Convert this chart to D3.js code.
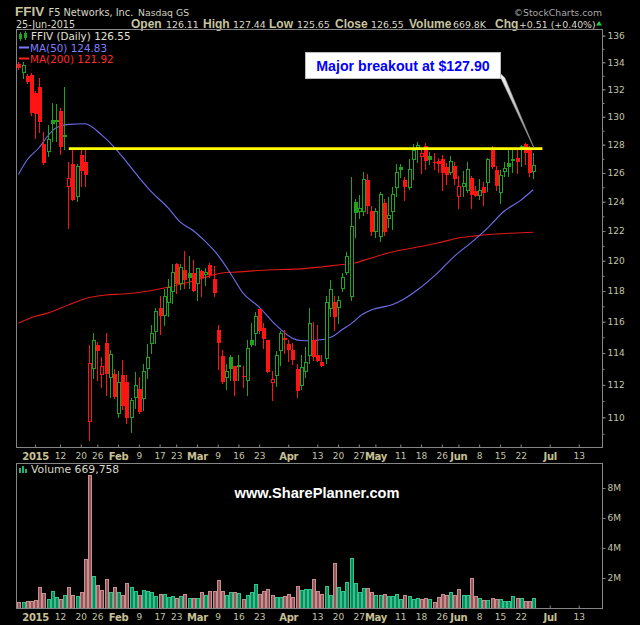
<!DOCTYPE html>
<html><head><meta charset="utf-8">
<script src="https://cdn.jsdelivr.net/npm/d3@7"></script>
<style>body{margin:0;background:#000;}svg{display:block;}</style>
</head><body><svg id="c" width="640" height="625"></svg>
<script>
// ---------------- data ----------------
const symbol = "FFIV", company = "F5 Networks, Inc.", exchange = "Nasdaq GS";
const quoteDate = "25-Jun-2015";
const quoteLabels = ["Open", "High", "Low", "Close", "Volume", "Chg"];
const quoteValues = ["126.11", "127.44", "125.65", "126.55", "669.8K", "+0.51 (+0.40%)"];
const legendPrice = "FFIV (Daily) 126.55";
const legendMA50 = "MA(50) 124.83";
const legendMA200 = "MA(200) 121.92";
const legendVolume = "Volume 669,758";
const annotationText = "Major breakout at $127.90";
const watermark = "www.SharePlanner.com";
const breakoutLevel = 127.72;   // level of the drawn yellow line
const prevClose = 134.3;

const tradingMonths = [
  ["2014-12", [26,29,30,31]],
  ["2015-01", [2,5,6,7,8,9,12,13,14,15,16,20,21,22,23,26,27,28,29,30]],
  ["2015-02", [2,3,4,5,6,9,10,11,12,13,17,18,19,20,23,24,25,26,27]],
  ["2015-03", [2,3,4,5,6,9,10,11,12,13,16,17,18,19,20,23,24,25,26,27,30,31]],
  ["2015-04", [1,2,6,7,8,9,10,13,14,15,16,17,20,21,22,23,24,27,28,29,30]],
  ["2015-05", [1,4,5,6,7,8,11,12,13,14,15,18,19,20,21,22,26,27,28,29]],
  ["2015-06", [1,2,3,4,5,8,9,10,11,12,15,16,17,18,19,22,23,24,25]]
];
const futureMonths = [
  ["2015-06", [26,29,30]],
  ["2015-07", [1,2,6,7,8,9,10,13,14,15,16,17,20]]
];

const opens = [133.90,133.30,133.00,133.08,131.75,132.19,128.03,127.54,129.80,129.70,
 130.45,128.60,125.11,126.63,124.43,127.30,126.77,109.80,113.04,114.51,
 112.67,114.64,112.48,112.67,110.24,112.60,112.17,110.00,111.23,111.73,
 111.16,113.04,114.64,115.40,116.87,116.42,117.26,117.97,119.79,118.55,
 119.40,119.20,119.20,118.55,119.33,119.14,119.72,118.81,115.50,113.80,
 112.48,113.74,113.17,113.20,112.55,112.30,114.85,115.30,116.80,115.60,
 114.85,112.20,112.60,114.20,114.95,114.60,114.20,112.97,111.98,112.86,
 113.86,114.85,113.90,113.42,113.70,116.87,117.26,116.95,118.23,119.27,
 117.65,124.00,123.40,123.40,125.50,123.40,122.00,121.65,123.90,122.90,
 123.40,125.04,126.40,125.50,125.00,126.98,127.85,127.20,127.90,127.20,
 126.80,126.85,126.98,126.42,126.08,126.49,124.43,125.11,124.84,125.66,
 124.77,124.50,125.04,125.39,127.61,126.22,124.70,126.15,126.70,126.95,
 127.05,127.80,128.03,127.75,126.11];
const highs = [134.05,134.00,133.10,133.20,131.90,132.85,128.87,129.44,131.02,130.90,
 130.60,132.19,126.77,127.68,126.60,127.68,127.68,114.50,115.28,114.70,
 113.74,115.28,114.19,113.00,112.90,113.55,112.60,111.16,112.80,112.48,
 113.30,114.60,115.80,116.87,117.65,118.10,118.80,119.80,119.85,119.79,
 120.66,120.32,120.06,119.55,119.40,119.53,119.85,119.66,115.79,114.20,
 113.30,113.90,113.20,113.90,113.20,114.85,115.95,116.60,116.80,115.95,
 114.85,112.90,114.10,115.40,115.50,114.80,114.65,113.30,113.86,114.40,
 116.87,116.00,115.80,113.90,117.65,118.75,117.65,117.70,119.20,120.60,
 125.73,124.20,124.50,126.10,125.90,123.70,123.60,124.70,124.20,124.30,
 125.00,126.63,126.60,125.70,127.00,128.03,128.20,127.70,128.10,127.50,
 127.40,127.05,127.25,126.70,127.20,126.77,125.80,126.15,126.77,125.80,
 125.10,125.60,125.40,127.05,127.89,126.49,126.22,126.77,127.68,127.68,
 127.68,128.00,128.10,127.89,127.44];
const lows = [133.50,132.85,132.50,130.16,128.45,128.87,126.63,127.19,128.24,128.24,
 127.33,127.68,122.20,124.09,124.02,125.11,125.11,108.65,112.42,112.30,
 111.85,111.35,111.23,111.16,110.00,110.50,109.63,109.09,110.55,110.24,
 110.43,112.42,114.00,114.64,115.20,115.80,116.36,117.20,117.84,118.10,
 118.23,118.23,117.97,117.39,117.65,118.42,118.94,117.65,113.00,112.10,
 111.73,112.30,111.35,112.30,111.90,111.40,114.45,114.50,115.30,114.35,
 112.80,111.05,111.95,113.25,114.00,113.50,113.30,111.25,111.73,112.50,
 113.36,113.55,113.50,113.17,113.36,116.36,115.50,115.95,117.97,119.10,
 117.40,121.60,122.90,123.07,123.20,121.70,121.60,121.30,121.70,122.30,
 122.15,124.43,125.70,124.10,124.90,125.60,126.80,126.00,126.30,126.60,
 126.30,126.10,124.80,125.20,125.94,125.25,123.60,124.43,124.70,123.60,
 124.43,124.22,123.75,124.77,126.36,124.84,123.95,125.80,125.80,126.08,
 126.00,126.50,126.63,125.80,125.65];
const closes = [133.67,133.82,132.63,130.37,130.30,129.66,126.77,128.38,129.58,129.80,
 127.89,128.70,125.66,124.22,126.49,126.22,125.94,113.36,114.83,114.19,
 113.17,112.73,113.93,111.29,112.17,110.73,110.00,111.04,111.98,110.36,
 112.86,113.74,115.28,116.68,116.42,117.65,118.29,119.27,118.55,119.59,
 118.81,118.94,118.04,119.53,118.94,119.27,119.14,117.91,114.70,112.23,
 112.86,113.04,112.29,113.24,112.53,114.30,114.55,116.40,115.45,114.95,
 112.86,112.35,113.90,115.30,114.90,114.25,113.60,111.70,113.10,113.42,
 115.95,113.80,113.55,113.23,117.26,118.10,116.36,117.40,118.94,120.32,
 122.35,123.30,123.55,125.60,123.75,122.00,123.40,124.56,121.98,123.10,
 124.56,126.08,126.25,125.11,126.30,127.61,127.95,127.40,126.90,126.98,
 126.77,126.70,126.08,125.94,126.84,125.66,125.11,125.32,126.29,124.56,
 124.50,124.84,124.70,126.98,126.49,125.18,125.87,126.36,126.49,127.00,
 126.84,127.90,127.47,126.04,126.55];
const volumesM = [0.38,0.38,0.45,0.45,0.52,1.38,1.0,0.62,1.12,0.72,
 0.62,0.85,1.38,0.85,0.78,1.05,3.28,8.9,2.15,1.55,
 1.2,1.92,1.05,1.38,1.05,0.85,1.65,1.4,1.15,0.85,
 1.2,1.12,1.05,0.8,0.95,0.95,0.72,0.8,0.65,0.78,
 0.95,0.65,0.65,0.65,1.05,0.85,1.12,1.12,1.88,1.12,
 0.85,1.05,1.05,1.0,0.58,0.85,1.05,1.6,0.95,1.15,
 1.28,0.9,0.72,0.72,0.8,0.92,0.72,1.48,1.2,1.25,
 1.25,1.92,1.15,0.92,1.48,0.85,3.0,1.42,1.15,1.72,
 3.35,1.68,1.05,1.35,1.35,1.1,0.85,0.85,0.95,0.8,
 0.8,0.95,0.62,0.9,0.8,0.6,0.65,0.6,0.65,0.62,
 0.4,0.75,0.95,0.85,1.1,0.85,1.3,0.85,0.85,2.0,
 0.8,0.7,0.55,0.55,0.65,0.6,0.6,0.5,0.5,0.8,
 0.7,0.65,0.5,0.5,0.67];

// moving averages: [trading-day index, value]
const ma50 = [[0,125.9],[2,126.9],[5,127.8],[7,128.6],[9,129.2],[12,129.45],[16,129.5],[20,128.7],
 [23,127.85],[26,126.8],[29,125.7],[32,124.7],[36,123.6],[39,122.6],[42,122.05],[45,121.3],[48,120.4],
 [51,119.2],[54,117.9],[58,116.95],[62,115.8],[66,114.95],[68,114.8],[70,114.78],[72,114.82],[74,114.9],
 [76,115.1],[78,115.5],[80,115.85],[83,116.5],[86,116.85],[90,117.1],[93,117.5],[96,118.05],[101,119.2],
 [105,120.3],[109,121.2],[113,122.2],[117,123.35],[121,124.1],[124,124.83]];
const ma200 = [[0,115.9],[4,116.35],[7,116.56],[12,117.08],[16,117.5],[21,117.74],[25,117.8],[28,117.87],
 [31,117.99],[36,118.25],[41,118.58],[46,118.98],[49,119.19],[53,119.26],[60,119.39],[68,119.46],[73,119.59],
 [77,119.72],[81,119.85],[85,120.19],[90,120.59],[95,120.86],[101,121.19],[106,121.53],[110,121.67],
 [115,121.8],[120,121.87],[124,121.92]];

const priceTicks = [110,112,114,116,118,120,122,124,126,128,130,132,134,136];
const volumeTicks = [2,4,6,8];
const xLabels = [
 ["2015-01-02","2015",1],["2015-01-12","12",0],["2015-01-20","20",0],["2015-01-26","26",0],
 ["2015-02-02","Feb",1],["2015-02-09","9",0],["2015-02-17","17",0],["2015-02-23","23",0],
 ["2015-03-02","Mar",1],["2015-03-09","9",0],["2015-03-16","16",0],["2015-03-23","23",0],
 ["2015-04-01","Apr",1],["2015-04-13","13",0],["2015-04-20","20",0],["2015-04-27","27",0],
 ["2015-05-01","May",1],["2015-05-11","11",0],["2015-05-18","18",0],["2015-05-26","26",0],
 ["2015-06-01","Jun",1],["2015-06-08","8",0],["2015-06-15","15",0],["2015-06-22","22",0],
 ["2015-07-01","Jul",1],["2015-07-13","13",0]];

// ---------------- build ----------------
const pad = d => String(d).padStart(2, "0");
const dates = [];
tradingMonths.forEach(([m, ds]) => ds.forEach(d => dates.push(m + "-" + pad(d))));
const allDates = dates.slice();
futureMonths.forEach(([m, ds]) => ds.forEach(d => allDates.push(m + "-" + pad(d))));
const idxOf = d => allDates.indexOf(d);

const bars = dates.map((d, i) => ({
  i, o: opens[i], h: highs[i], l: lows[i], c: closes[i], v: volumesM[i],
  up: closes[i] >= (i ? closes[i - 1] : prevClose)
}));

const L = 16, R = 602, T = 29, B = 447, VT = 463, VB = 608;
const x = d3.scaleLinear().domain([-0.6, 140.6]).range([L, R]);
const y = d3.scaleLog().domain([108.2, 136.5]).range([B, T]);
const yv = d3.scaleLinear().domain([0, 9.67]).range([VB, VT]);

const FD = "'DejaVu Sans', Verdana, sans-serif";
const FA = "'Liberation Sans', Arial, sans-serif";
const GREEN = "#1fa31f", RED = "#ff1414";
const AXT = "#c4c4aa";

const svg = d3.select("#c");
svg.append("rect").attr("width", 640).attr("height", 625).attr("fill", "#000");

// header
svg.append("text").attr("x", 15).attr("y", 16).text(symbol)
  .attr("font-family", FA).attr("font-weight", "bold").attr("font-size", 13.5).attr("fill", "#c8c4a0");
svg.append("text").attr("x", 48.5).attr("y", 15.5).text(company)
  .attr("font-family", FD).attr("font-size", 9.8).attr("fill", "#d8d8c8");
svg.append("text").attr("x", 138).attr("y", 15.5).text(exchange)
  .attr("font-family", FD).attr("font-size", 9.3).attr("fill", "#d0d0c0");
svg.append("text").attr("x", 602).attr("y", 15.5).attr("text-anchor", "end").text("\u00A9StockCharts.com")
  .attr("font-family", FD).attr("font-size", 9.3).attr("fill", "#a8a8a8");
svg.append("text").attr("x", 16).attr("y", 27.5).text(quoteDate)
  .attr("font-family", FD).attr("font-size", 9.6).attr("fill", "#d8d8c8");
const labelX = [131, 203, 269, 335, 409, 495];
const valueX = [166, 233, 297, 371, 453, 519];
quoteLabels.forEach((t, k) => {
  svg.append("text").attr("x", labelX[k]).attr("y", 27.5).text(t)
    .attr("font-family", FA).attr("font-weight", "bold").attr("font-size", 12).attr("fill", "#c8c4a0");
  svg.append("text").attr("x", valueX[k]).attr("y", 27.5).text(quoteValues[k])
    .attr("font-family", FD).attr("font-size", 9.4).attr("fill", "#d8d8c8");
});
svg.append("path").attr("d", "M596,25.5L599,21L602,25.5Z").attr("fill", "#22cc44");

// panels
svg.append("rect").attr("x", L + 0.5).attr("y", T + 0.5).attr("width", R - L).attr("height", B - T)
  .attr("fill", "none").attr("stroke", "#858585");
svg.append("rect").attr("x", L + 0.5).attr("y", VT + 0.5).attr("width", R - L).attr("height", VB - VT)
  .attr("fill", "none").attr("stroke", "#858585");

// right price axis
const ya = svg.append("g").attr("transform", `translate(${R + 0.5},0)`)
  .call(d3.axisRight(y).tickValues(priceTicks).tickFormat(d3.format("d")).tickSize(3).tickPadding(2));
const yminor = svg.append("g").attr("transform", `translate(${R + 0.5},0)`)
  .call(d3.axisRight(y).tickValues(d3.range(109, 137)).tickFormat("").tickSize(2));
[ya, yminor].forEach(g => {
  g.select(".domain").remove();
  g.selectAll("line").attr("stroke", "#858585");
  g.selectAll("text").attr("font-family", FD).attr("font-size", 9).attr("fill", AXT);
});

// volume axis
const va = svg.append("g").attr("transform", `translate(${R + 0.5},0)`)
  .call(d3.axisRight(yv).tickValues(volumeTicks).tickFormat(d => d + "M").tickSize(3).tickPadding(2));
va.select(".domain").remove();
va.selectAll("line").attr("stroke", "#858585");
va.selectAll("text").attr("font-family", FD).attr("font-size", 9).attr("fill", AXT);

// x axes (between panels and at bottom)
const labelIdx = xLabels.map(d => idxOf(d[0]));
const labelMap = new Map(xLabels.map(d => [idxOf(d[0]), d]));
function xAxis(g, yy) {
  g.attr("transform", `translate(0,${yy})`)
    .call(d3.axisBottom(x).tickValues(labelIdx).tickFormat(i => labelMap.get(i)[1])
      .tickSizeInner(-3).tickSizeOuter(0).tickPadding(5));
  g.select(".domain").remove();
  g.selectAll("line").attr("stroke", "#858585");
  g.selectAll("text")
    .attr("font-family", FD)
    .attr("font-size", i => labelMap.get(i)[2] ? 10 : 9)
    .attr("font-weight", i => labelMap.get(i)[2] ? "bold" : "normal")
    .attr("fill", i => labelMap.get(i)[2] ? "#c8c096" : AXT)
    .attr("letter-spacing", i => labelMap.get(i)[2] ? "-0.3" : "0");
}
svg.append("g").call(xAxis, B + 0.5);
svg.append("g").call(xAxis, VB + 0.5);

// clip for main
svg.append("clipPath").attr("id", "mainClip").append("rect")
  .attr("x", L + 1).attr("y", T + 1).attr("width", R - L - 1).attr("height", B - T - 1);
const plot = svg.append("g").attr("clip-path", "url(#mainClip)");

// moving averages
const maLine = d3.line().x(d => x(d[0])).y(d => y(d[1])).curve(d3.curveMonotoneX);
plot.append("path").attr("d", maLine(ma200)).attr("fill", "none").attr("stroke", "#e01818").attr("stroke-width", 1.1);
plot.append("path").attr("d", maLine(ma50)).attr("fill", "none").attr("stroke", "#6f6ff0").attr("stroke-width", 1.1);

// candles
const px = i => Math.round(x(i));
const cg = plot.append("g");
bars.forEach(b => {
  const col = b.up ? GREEN : RED;
  const cx = px(b.i);
  cg.append("line").attr("x1", cx + 0.5).attr("x2", cx + 0.5)
    .attr("y1", Math.round(y(b.h))).attr("y2", Math.round(y(b.l)) + 1)
    .attr("stroke", col).attr("stroke-width", 1);
  const top = Math.round(y(Math.max(b.o, b.c)));
  const bot = Math.round(y(Math.min(b.o, b.c)));
  if (b.c < b.o) {
    cg.append("rect").attr("x", cx - 1).attr("y", top).attr("width", 4).attr("height", Math.max(1, bot - top + 1))
      .attr("fill", col);
  } else {
    cg.append("rect").attr("x", cx - 0.5).attr("y", top + 0.5).attr("width", 3).attr("height", Math.max(1, bot - top))
      .attr("fill", "#000").attr("stroke", col).attr("stroke-width", 1);
  }
});

// breakout line
plot.append("line")
  .attr("x1", x(idxOf("2015-01-14")) + 0.5).attr("x2", x(idxOf("2015-06-29")) + 1)
  .attr("y1", y(breakoutLevel)).attr("y2", y(breakoutLevel))
  .attr("stroke", "#ffff00").attr("stroke-width", 2.6);

// legend main
const lg = svg.append("g");
lg.append("rect").attr("x", 19.5).attr("y", 34.5).attr("width", 2).attr("height", 4).attr("fill", "none").attr("stroke", GREEN);
lg.append("line").attr("x1", 20.5).attr("x2", 20.5).attr("y1", 32).attr("y2", 41).attr("stroke", GREEN);
lg.append("rect").attr("x", 24).attr("y", 33).attr("width", 3).attr("height", 5).attr("fill", GREEN);
lg.append("line").attr("x1", 25.5).attr("x2", 25.5).attr("y1", 31).attr("y2", 40).attr("stroke", GREEN);
lg.append("text").attr("x", 31).attr("y", 40).text(legendPrice)
  .attr("font-family", FD).attr("font-size", 10.4).attr("fill", "#e0e0d4");
lg.append("line").attr("x1", 19).attr("x2", 29).attr("y1", 47.5).attr("y2", 47.5).attr("stroke", "#7b7bff").attr("stroke-width", 2);
lg.append("text").attr("x", 30).attr("y", 51.5).text(legendMA50)
  .attr("font-family", FD).attr("font-size", 10.4).attr("fill", "#7f7fff");
lg.append("line").attr("x1", 19).attr("x2", 29).attr("y1", 58.5).attr("y2", 58.5).attr("stroke", "#ff2020").attr("stroke-width", 2);
lg.append("text").attr("x", 30).attr("y", 62.5).text(legendMA200)
  .attr("font-family", FD).attr("font-size", 10.4).attr("fill", "#ff2a2a");

// annotation
const ptr = svg.append("defs").append("linearGradient").attr("id", "ptrG")
  .attr("x1", "0").attr("y1", "0").attr("x2", "1").attr("y2", "0");
ptr.append("stop").attr("offset", "0").attr("stop-color", "#ffffff");
ptr.append("stop").attr("offset", "1").attr("stop-color", "#8a8a8a");
svg.append("path").attr("d", "M497,70L505,78L534,148Z").attr("fill", "url(#ptrG)").attr("stroke", "#9a9a9a").attr("stroke-width", 0.6);
svg.append("rect").attr("x", 305.5).attr("y", 52.5).attr("width", 195).attr("height", 26)
  .attr("fill", "#ffffff").attr("stroke", "#bbbbbb");
svg.append("text").attr("x", 403).attr("y", 71).attr("text-anchor", "middle").text(annotationText)
  .attr("font-family", FA).attr("font-weight", "bold").attr("font-size", 14.2).attr("fill", "#0000ff");

// volume bars
svg.append("clipPath").attr("id", "volClip").append("rect")
  .attr("x", L + 1).attr("y", VT + 1).attr("width", R - L - 1).attr("height", VB - VT - 1);
const vg = svg.append("g").attr("clip-path", "url(#volClip)");
bars.forEach(b => {
  const cx = px(b.i);
  const top = Math.round(yv(b.v));
  vg.append("rect").attr("x", cx - 0.5).attr("y", top + 0.5).attr("width", 3).attr("height", Math.max(1, VB - top))
    .attr("fill", b.up ? "#0d8a5b" : "#93575b")
    .attr("stroke", b.up ? "#35c28c" : "#c98f8f").attr("stroke-width", 1);
});

// volume legend + watermark
const vl = svg.append("g");
[[19, 468, 5], [22, 466, 7], [25, 469, 4]].forEach(([a, b, h]) =>
  vl.append("rect").attr("x", a).attr("y", b).attr("width", 2).attr("height", h).attr("fill", "#22b37a"));
vl.append("text").attr("x", 31).attr("y", 473).text(legendVolume)
  .attr("font-family", FD).attr("font-size", 10.8).attr("fill", "#d8d8c8");
svg.append("text").attr("x", 317).attr("y", 497.5).attr("text-anchor", "middle").text(watermark)
  .attr("font-family", FA).attr("font-weight", "bold").attr("font-size", 14.6).attr("fill", "#ffffff");
</script>
</body></html>
